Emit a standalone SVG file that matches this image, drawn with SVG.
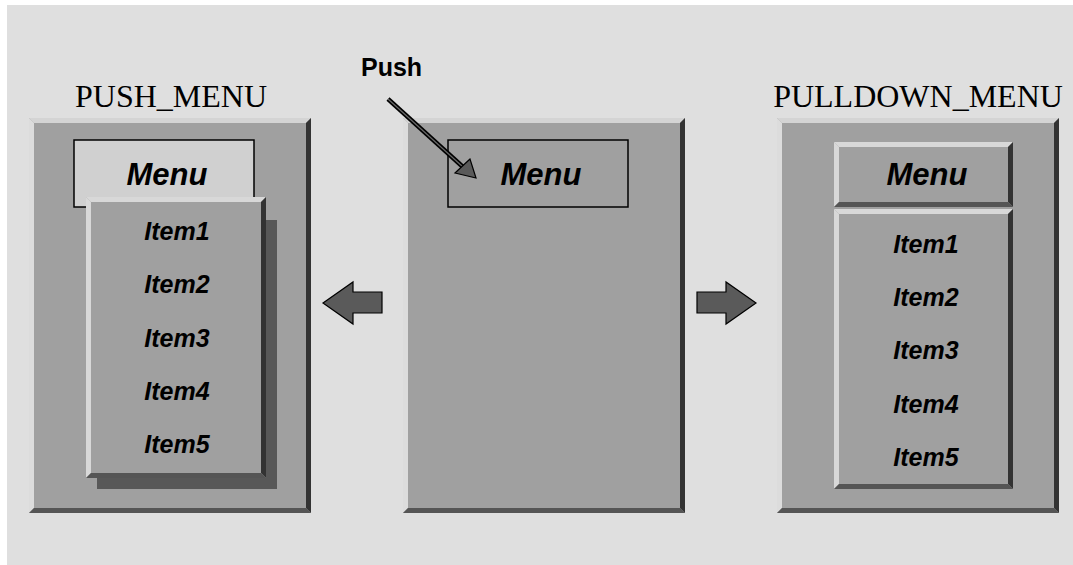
<svg xmlns="http://www.w3.org/2000/svg" width="1073" height="565" viewBox="0 0 1073 565">
<style>
.face{fill:#a0a0a0}
.lt{fill:#d4d4d4}
.lf{fill:#dcdcdc}
.lb{fill:#d8d8d8}
.dr{fill:#333333}
.db{fill:#555555}
.shadow{fill:#585858}
.lbl{font-family:"Liberation Serif","Times New Roman",serif;font-size:32px;fill:#000;text-anchor:middle}
.menu{font-family:"Liberation Sans",Arial,sans-serif;font-size:31px;font-weight:bold;font-style:italic;fill:#000;text-anchor:middle}
.item{font-family:"Liberation Sans",Arial,sans-serif;font-size:25px;font-weight:bold;font-style:italic;fill:#000;text-anchor:middle}
.push{font-family:"Liberation Sans",Arial,sans-serif;font-size:25px;font-weight:bold;fill:#000}
.blk{fill:#5a5a5a;stroke:#000;stroke-width:1.2}
</style>
<rect x="0" y="0" width="1073" height="565" fill="#ffffff"/>
<rect x="7" y="5" width="1066" height="560" fill="#dfdfdf"/>

<g id="push-menu-panel">
<text class="lbl" x="171" y="107">PUSH_MENU</text>
<rect class="face" x="29" y="118" width="282" height="395"/>
<polygon class="lt" points="29,118 311,118 306,123 34,123"/>
<polygon class="lf" points="29,118 34,123 34,508 29,513"/>
<polygon class="dr" points="311,118 311,513 306,508 306,123"/>
<polygon class="db" points="29,513 311,513 306,508 34,508"/>
<rect x="74" y="140" width="180" height="67" fill="#d0d0d0" stroke="#000" stroke-width="1.5"/>
<text class="menu" x="167" y="185">Menu</text>
<rect class="shadow" x="97" y="220" width="180" height="269"/>
<rect class="face" x="86" y="197" width="180" height="281"/>
<polygon class="lb" points="86,197 266,197 261,202 91,202"/>
<polygon class="lb" points="86,197 91,202 91,473 86,478"/>
<polygon class="dr" points="266,197 266,478 261,473 261,202"/>
<polygon class="db" points="86,478 266,478 261,473 91,473"/>
<text class="item" x="177" y="240">Item1</text>
<text class="item" x="177" y="293">Item2</text>
<text class="item" x="177" y="347">Item3</text>
<text class="item" x="177" y="400">Item4</text>
<text class="item" x="177" y="453">Item5</text>
</g>

<g id="center-panel">
<rect class="face" x="403" y="118" width="282" height="395"/>
<polygon class="lt" points="403,118 685,118 680,123 408,123"/>
<polygon class="lf" points="403,118 408,123 408,508 403,513"/>
<polygon class="dr" points="685,118 685,513 680,508 680,123"/>
<polygon class="db" points="403,513 685,513 680,508 408,508"/>
<rect x="448" y="140" width="180" height="67" fill="#a0a0a0" stroke="#000" stroke-width="1.5"/>
<text class="menu" x="541" y="185">Menu</text>
</g>

<g id="pulldown-menu-panel">
<text class="lbl" x="918" y="107">PULLDOWN_MENU</text>
<rect class="face" x="777" y="118" width="282" height="395"/>
<polygon class="lt" points="777,118 1059,118 1054,123 782,123"/>
<polygon class="lf" points="777,118 782,123 782,508 777,513"/>
<polygon class="dr" points="1059,118 1059,513 1054,508 1054,123"/>
<polygon class="db" points="777,513 1059,513 1054,508 782,508"/>
<rect class="face" x="834" y="142" width="179" height="65"/>
<polygon class="lb" points="834,142 1013,142 1008,147 839,147"/>
<polygon class="lb" points="834,142 839,147 839,202 834,207"/>
<polygon class="dr" points="1013,142 1013,207 1008,202 1008,147"/>
<polygon class="db" points="834,207 1013,207 1008,202 839,202"/>
<text class="menu" x="927" y="185">Menu</text>
<rect class="face" x="834" y="209" width="179" height="280"/>
<polygon class="lb" points="834,209 1013,209 1008,214 839,214"/>
<polygon class="lb" points="834,209 839,214 839,484 834,489"/>
<polygon class="dr" points="1013,209 1013,489 1008,484 1008,214"/>
<polygon class="db" points="834,489 1013,489 1008,484 839,484"/>
<text class="item" x="926" y="253">Item1</text>
<text class="item" x="926" y="306">Item2</text>
<text class="item" x="926" y="359">Item3</text>
<text class="item" x="926" y="413">Item4</text>
<text class="item" x="926" y="466">Item5</text>
</g>

<g id="push-label">
<text class="push" x="361" y="76">Push</text>
</g>

<g id="connectors">
<line x1="388" y1="99" x2="463" y2="167" stroke="#000" stroke-width="4.5"/>
<line x1="388" y1="99" x2="463" y2="167" stroke="#6a6a6a" stroke-width="1.2"/>
<polygon class="blk" points="470,159 455,173 476,178"/>
<polygon class="blk" points="323,303 353,282 353,292 382,292 382,313 353,313 353,324"/>
<polygon class="blk" points="697,292 726,292 726,282 756,303 726,324 726,313 697,313"/>
</g>
</svg>
